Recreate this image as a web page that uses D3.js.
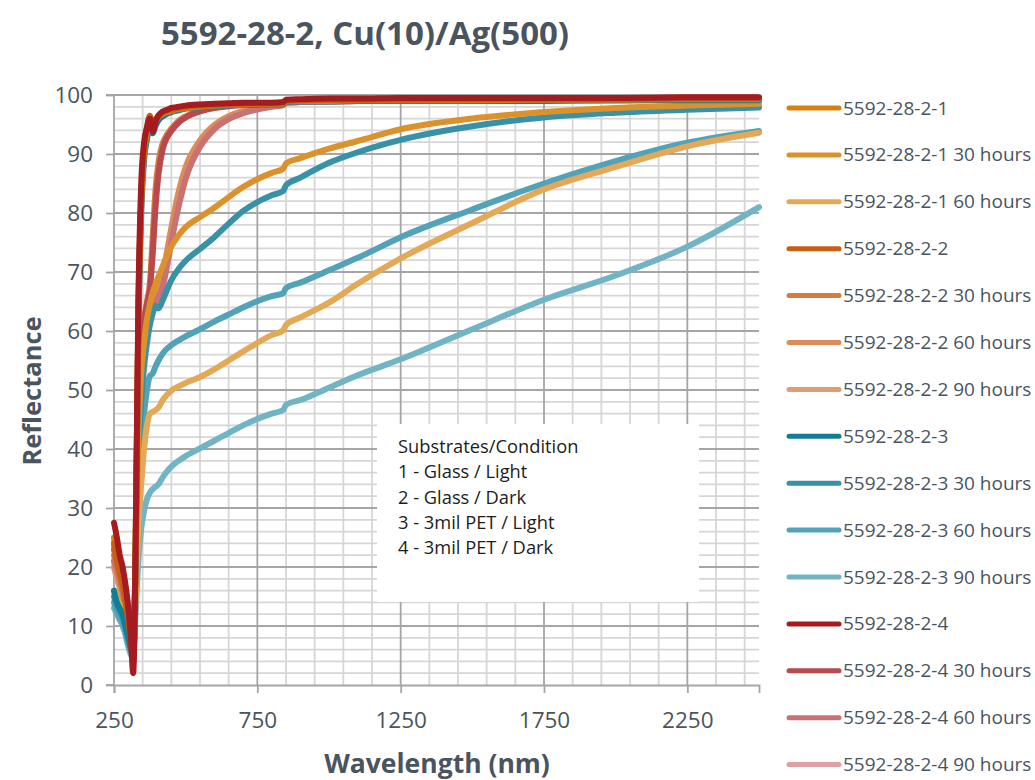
<!DOCTYPE html>
<html>
<head>
<meta charset="utf-8">
<script src="https://cdn.jsdelivr.net/npm/d3@7"></script>
<style>
  body { margin: 0; background: #fff; }
  text { font-family: "Open Sans", "Noto Sans", sans-serif; }
</style>
</head>
<body>
<div id="chart-area"></div>
<script>
// shared wavelength grid (nm)
const wavelengths = [250, 260, 270, 280, 290, 300, 310, 317, 325, 335, 345, 355, 365, 375, 385, 395, 405, 420, 435, 450, 475, 500, 550, 600, 650, 700, 800, 840, 850, 900, 1000, 1100, 1250, 1500, 1750, 2000, 2250, 2500];

const seriesNames = [
    "5592-28-2-1", "5592-28-2-1 30 hours", "5592-28-2-1 60 hours",
    "5592-28-2-2", "5592-28-2-2 30 hours", "5592-28-2-2 60 hours", "5592-28-2-2 90 hours",
    "5592-28-2-3", "5592-28-2-3 30 hours", "5592-28-2-3 60 hours", "5592-28-2-3 90 hours",
    "5592-28-2-4", "5592-28-2-4 30 hours", "5592-28-2-4 60 hours", "5592-28-2-4 90 hours"
];

const seriesColors = [
    "#d4820d", "#db922c", "#e4a956",
    "#c95e14", "#d77b40", "#dd8b58", "#e09c74",
    "#147c93", "#3892a7", "#52a3b7", "#71b4c4",
    "#a51b1f", "#b84a4e", "#c97274", "#dba1a3"
];

// order the lines are painted in (last one on top)
const drawOrder = [14, 6, 5, 4, 13, 12, 10, 9, 8, 2, 1, 7, 0, 3, 11];

// reflectance (%) per series at each wavelength above
const r21 = [25, 22, 20.5, 18, 15, 12, 8, 6, 22, 62, 82, 90, 93.5, 95.5, 94.5, 95.5, 96.3, 96.8, 97.1, 97.3, 97.6, 97.8, 98, 98.2, 98.3, 98.4, 98.5, 98.5, 98.9, 99, 99, 99.1, 99.1, 99.1, 99.2, 99.2, 99.3, 99.3];
const r21h30 = [24, 21, 19, 17, 14, 11, 7, 5, 18, 42, 53, 58, 62, 64.5, 66.5, 68, 69.2, 71, 72.8, 74.3, 76.2, 77.6, 79.3, 80.9, 82.7, 84.4, 86.8, 87.5, 88.4, 89.3, 90.9, 92.2, 94.2, 96, 97.1, 97.8, 98.2, 98.5];
const r21h60 = [16, 14.5, 13.5, 12.5, 11, 9, 6.5, 5, 14, 27, 34, 40, 44, 46, 46.3, 46.6, 47, 48.3, 49.2, 49.9, 50.6, 51.2, 52.2, 53.5, 55, 56.5, 59.3, 60.1, 61, 62.3, 64.8, 68, 72.3, 78.3, 84, 87.8, 91.3, 93.6];

const r22 = [24, 21, 19, 17, 14, 11, 7, 4, 21, 63, 83, 91, 94.5, 96.5, 95, 95.8, 96.5, 97, 97.3, 97.5, 97.8, 98, 98.2, 98.3, 98.4, 98.5, 98.6, 98.6, 99, 99.1, 99.2, 99.2, 99.2, 99.3, 99.3, 99.3, 99.4, 99.4];
const r22h30 = [22, 20, 18, 16, 13.5, 10.5, 7, 5, 20, 45, 57, 62, 65, 68, 76, 84, 88.5, 91.8, 93.3, 94.3, 95.6, 96.4, 97.4, 97.9, 98.2, 98.4, 98.5, 98.5, 98.9, 99, 99.1, 99.1, 99.2, 99.2, 99.2, 99.3, 99.3, 99.3];
const r22h60 = [21, 19, 17, 15, 13, 10, 7, 5, 19, 42, 54, 59, 61.5, 63, 64.3, 65.5, 66.8, 69.5, 73.5, 77.5, 83.5, 87.8, 92.3, 94.9, 96.4, 97.3, 98.2, 98.4, 98.8, 98.9, 99, 99.1, 99.1, 99.1, 99.2, 99.2, 99.2, 99.2];
const r22h90 = [20, 18, 16.5, 14.5, 12.5, 10, 7, 5, 18, 40, 52, 58, 61, 62.5, 63.8, 65, 66.2, 68.5, 72, 76, 82, 86.5, 91.5, 94.4, 96, 97, 98.1, 98.3, 98.7, 98.8, 98.9, 99, 99, 99.1, 99.1, 99.1, 99.2, 99.2];

const r23 = [16, 14, 13, 12, 10, 8, 6, 5, 20, 60, 80, 89, 92.5, 94.5, 93.5, 94.8, 95.7, 96.4, 96.8, 97.1, 97.4, 97.7, 97.9, 98.1, 98.2, 98.3, 98.4, 98.4, 98.8, 98.9, 98.9, 99, 99, 99, 99, 99.1, 99.1, 99.1];
const r23h30 = [15, 13.5, 12.5, 11.5, 10, 8, 6, 5, 17, 38, 48, 54, 58, 61, 63, 64.3, 63.8, 65.2, 67, 68.6, 70.5, 71.9, 73.9, 75.9, 78.2, 80.3, 83, 83.7, 84.7, 86, 88.5, 90.3, 92.4, 94.7, 96.2, 97, 97.5, 97.9];
const r23h60 = [14, 12.5, 11.5, 10.5, 9, 7, 5.5, 5, 14, 30, 40, 46, 50, 52.4, 52.8, 54, 55, 56.2, 57, 57.6, 58.4, 59.1, 60.3, 61.6, 62.8, 64, 65.9, 66.4, 67.3, 68.2, 70.3, 72.4, 75.9, 80.6, 85, 88.8, 91.9, 93.9];
const r23h90 = [13, 12, 11, 10, 8.5, 6.5, 5, 4.5, 12, 21, 26.5, 29.5, 31.5, 32.6, 33.2, 33.6, 34, 35.2, 36.2, 37, 38, 38.8, 40.1, 41.4, 42.7, 44, 46, 46.6, 47.5, 48.3, 50.4, 52.5, 55.2, 60.3, 65.3, 69.4, 74.3, 81];

const r24 = [27.5, 25, 22, 20, 17, 13, 7, 2, 22, 65, 85, 92, 94.5, 96, 93.8, 95.5, 96.5, 97.2, 97.5, 97.8, 98, 98.2, 98.4, 98.5, 98.6, 98.7, 98.7, 98.8, 99.2, 99.3, 99.4, 99.4, 99.5, 99.5, 99.5, 99.5, 99.6, 99.6];
const r24h30 = [23, 21, 19, 17, 14.5, 11, 7, 4, 20, 44, 56, 61.5, 64.5, 67, 73, 81, 86.5, 90.8, 92.8, 93.9, 95.3, 96.2, 97.2, 97.8, 98.1, 98.3, 98.5, 98.5, 98.9, 99, 99.1, 99.2, 99.3, 99.3, 99.3, 99.3, 99.4, 99.4];
const r24h60 = [21, 19.5, 18, 16, 13.5, 10.5, 7, 4, 19, 40, 52, 57.5, 60.5, 62, 63.5, 64.8, 65.8, 67.5, 71, 75, 81, 85.8, 91.2, 94.2, 95.9, 96.9, 98, 98.3, 98.7, 98.8, 98.9, 99, 99, 99.1, 99.1, 99.1, 99.2, 99.2];
const r24h90 = [20, 18.5, 17, 15, 13, 10, 7, 4.5, 18, 41, 53, 58.5, 61.2, 62.7, 64, 65.2, 66.5, 69, 72.8, 76.8, 82.8, 87.2, 92, 94.7, 96.2, 97.1, 98.1, 98.3, 98.7, 98.8, 98.9, 99, 99, 99.1, 99.1, 99.1, 99.2, 99.2];

const seriesValues = [r21, r21h30, r21h60, r22, r22h30, r22h60, r22h90, r23, r23h30, r23h60, r23h90, r24, r24h30, r24h60, r24h90];

const xTicks = [250, 750, 1250, 1750, 2250];
const yTicks = [0, 10, 20, 30, 40, 50, 60, 70, 80, 90, 100];
const noteLines = ["Substrates/Condition", "1 - Glass / Light", "2 - Glass / Dark", "3 - 3mil PET / Light", "4 - 3mil PET / Dark"];

const width = 1035, height = 780;
const plot = { left: 114, right: 759, top: 95, bottom: 685 };
const textColor = "#4a545e";

const svg = d3.select("#chart-area")
    .append("svg")
    .attr("width", width)
    .attr("height", height);

const scaleX = d3.scaleLinear().domain([250, 2500]).range([plot.left, plot.right]);
const scaleY = d3.scaleLinear().domain([0, 100]).range([plot.bottom, plot.top]);

// gridlines: minor every 100 nm / 2 %, major every 500 nm / 10 %
const minorX = d3.range(350, 2500, 100).filter(v => (v - 250) % 500 !== 0);
const minorY = d3.range(2, 100, 2).filter(v => v % 10 !== 0);
const grid = svg.append("g").attr("class", "grid");

grid.selectAll(".minor-x").data(minorX).enter().append("line")
    .attr("x1", d => scaleX(d)).attr("x2", d => scaleX(d))
    .attr("y1", plot.top).attr("y2", plot.bottom)
    .attr("stroke", "#d6d6d6").attr("stroke-width", 1.8);
grid.selectAll(".minor-y").data(minorY).enter().append("line")
    .attr("x1", plot.left).attr("x2", plot.right)
    .attr("y1", d => scaleY(d)).attr("y2", d => scaleY(d))
    .attr("stroke", "#d6d6d6").attr("stroke-width", 1.8);
grid.selectAll(".major-x").data(xTicks.slice(1)).enter().append("line")
    .attr("x1", d => scaleX(d)).attr("x2", d => scaleX(d))
    .attr("y1", plot.top).attr("y2", plot.bottom)
    .attr("stroke", "#a5a5a5").attr("stroke-width", 1.8);
grid.selectAll(".major-y").data(yTicks.slice(1)).enter().append("line")
    .attr("x1", plot.left).attr("x2", plot.right)
    .attr("y1", d => scaleY(d)).attr("y2", d => scaleY(d))
    .attr("stroke", "#a5a5a5").attr("stroke-width", 1.8);

// axes
const bottomAxis = d3.axisBottom(scaleX).tickValues(xTicks).tickFormat(d3.format("d")).tickSize(8).tickPadding(19);
const leftAxis = d3.axisLeft(scaleY).tickValues(yTicks).tickSize(8).tickPadding(13);

const gx = svg.append("g")
    .attr("transform", `translate(0,${plot.bottom})`)
    .call(bottomAxis);
const gy = svg.append("g")
    .attr("transform", `translate(${plot.left},0)`)
    .call(leftAxis);

[gx, gy].forEach(g => {
    g.select(".domain").attr("stroke", "#a5a5a5").attr("stroke-width", 1.8);
    g.selectAll(".tick line").attr("stroke", "#a5a5a5").attr("stroke-width", 1.8);
    g.selectAll(".tick text").attr("fill", textColor).attr("font-size", "22.5px");
});
gy.select(".domain").attr("d", `M-8,${plot.top}H0V${plot.bottom}H-8`);

// note box
const note = svg.append("g").attr("transform", "translate(377,424)");
note.append("rect").attr("width", 322).attr("height", 178).attr("fill", "#fff");
note.selectAll("text").data(noteLines).enter().append("text")
    .attr("x", 21)
    .attr("y", (d, i) => 29 + i * 25.3)
    .attr("font-size", "18.3px")
    .attr("fill", "#1c1c1c")
    .text(d => d);

// series lines
const line = d3.line()
    .x(d => scaleX(d[0]))
    .y(d => scaleY(d[1]))
    .curve(d3.curveMonotoneX);

svg.append("g").selectAll("path")
    .data(drawOrder)
    .enter().append("path")
    .attr("d", k => line(wavelengths.map((w, i) => [w, seriesValues[k][i]])))
    .attr("fill", "none")
    .attr("stroke", k => seriesColors[k])
    .attr("stroke-width", 6)
    .attr("stroke-linejoin", "round")
    .attr("stroke-linecap", "round");

// legend
const legend = svg.append("g").attr("transform", "translate(787,108)");
const rows = legend.selectAll("g").data(seriesNames).enter().append("g")
    .attr("transform", (d, i) => `translate(0,${i * 46.9})`);
rows.append("line")
    .attr("x1", 2).attr("x2", 52)
    .attr("stroke", (d, i) => seriesColors[i])
    .attr("stroke-width", 5)
    .attr("stroke-linecap", "round");
rows.append("text")
    .attr("x", 56).attr("y", 6.5)
    .attr("font-size", "19px")
    .attr("fill", textColor)
    .text(d => d);

// titles
svg.append("text")
    .attr("x", 365).attr("y", 45)
    .attr("text-anchor", "middle")
    .attr("font-size", "33px").attr("font-weight", "bold")
    .attr("fill", textColor)
    .text("5592-28-2, Cu(10)/Ag(500)");

svg.append("text")
    .attr("x", 437).attr("y", 773)
    .attr("text-anchor", "middle")
    .attr("font-size", "26.5px").attr("font-weight", "bold")
    .attr("fill", textColor)
    .text("Wavelength (nm)");

svg.append("text")
    .attr("transform", "translate(41,391) rotate(-90)")
    .attr("text-anchor", "middle")
    .attr("font-size", "25.5px").attr("font-weight", "bold")
    .attr("fill", textColor)
    .text("Reflectance");
</script>
</body>
</html>
